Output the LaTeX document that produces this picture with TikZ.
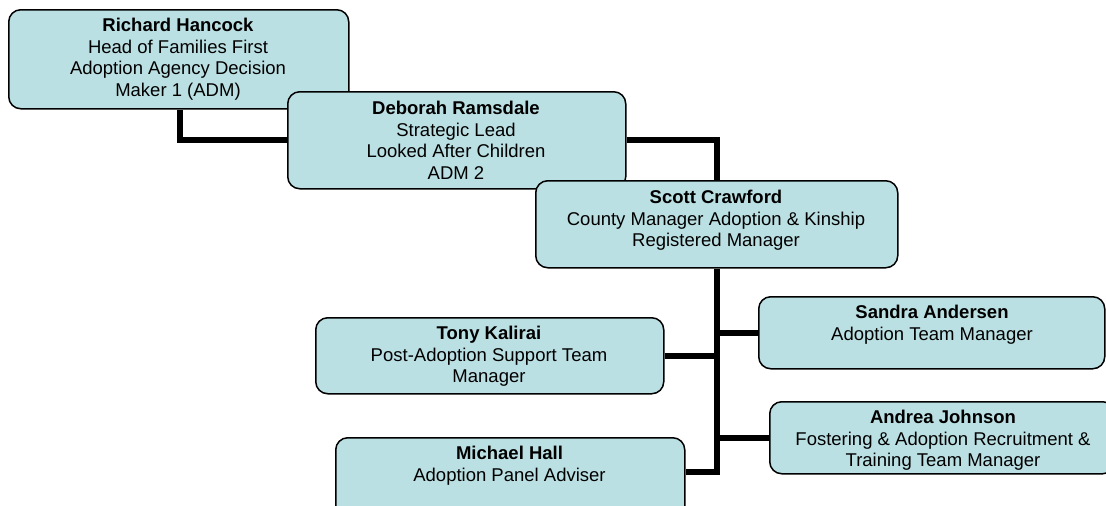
\documentclass[tikz,border=0pt]{standalone}
\usepackage{fontspec}
\setmainfont{Liberation Sans}
\usetikzlibrary{backgrounds}
\definecolor{boxfill}{RGB}{187,224,227}
\tikzset{
  box/.style={draw=black, line width=1.5pt, fill=boxfill, rounded corners=12pt,
    anchor=north west, inner sep=0pt},
  txt/.style={anchor=north, align=center, inner sep=0pt,
    font=\fontsize{18.5}{21.5}\selectfont},
  conn/.style={draw=black, line width=6pt, line join=miter}
}
\begin{document}
\begin{tikzpicture}[x=1pt,y=1pt]
\useasboundingbox (0,0) rectangle (1106,-506);
% boxes
\node[box, minimum width=340pt, minimum height=99pt] (rh) at (8,-9) {};
\node[txt] (rht) at (178,-18) {\textbf{Richard Hancock}\\Head of Families First\\Adoption Agency Decision\\Maker 1 (ADM)};
\node[box, minimum width=338pt, minimum height=97pt] (dr) at (287,-91) {};
\node[txt] (drt) at (456,-101) {\textbf{Deborah Ramsdale}\\Strategic Lead\\Looked After Children\\ADM 2};
\node[box, minimum width=362pt, minimum height=87pt] (sc) at (535,-180) {};
\node[txt] (sct) at (716,-190) {\textbf{Scott Crawford}\\County Manager Adoption \& Kinship\\Registered Manager};
\node[box, minimum width=348pt, minimum height=76pt] (tk) at (315,-317) {};
\node[txt] (tkt) at (489,-326) {\textbf{Tony Kalirai}\\Post-Adoption Support Team\\Manager};
\node[box, minimum width=349pt, minimum height=90pt] (mh) at (335,-437) {};
\node[txt] (mht) at (509.5,-446) {\textbf{Michael Hall}\\Adoption Panel Adviser};
\node[box, minimum width=346pt, minimum height=72pt] (sa) at (758,-296) {};
\node[txt] (sat) at (932,-305) {\textbf{Sandra Andersen}\\Adoption Team Manager};
\node[box, minimum width=345pt, minimum height=72pt] (aj) at (769,-401) {};
\node[txt] (ajt) at (943,-410) {\textbf{Andrea Johnson}\\Fostering \& Adoption Recruitment \&\\Training Team Manager};
% junction coordinates
\coordinate (c1) at (180,-140);
\coordinate (c2) at (717,-140);
\coordinate (ym) at (0,-472);
\begin{scope}[on background layer]
\draw[conn] (rh.south -| c1) |- (dr.west |- c1);
\draw[conn] (dr.east |- c2) -| (sc.north -| c2);
\draw[conn] (sc.south -| c2) -- (c2 |- ym) -- (mh.east |- ym);
\draw[conn] (c2 |- tk.east) -- (tk.east);
\draw[conn] (c2 |- sa.west) -- (sa.west);
\draw[conn] (c2 |- aj.west) -- (aj.west);
\end{scope}
\end{tikzpicture}
\end{document}
